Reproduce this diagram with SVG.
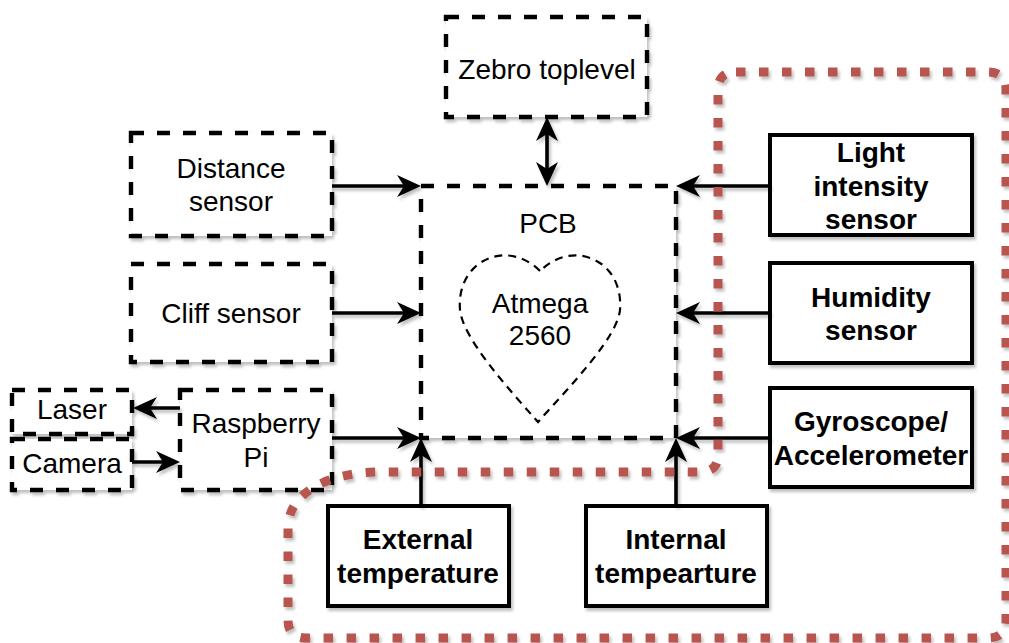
<svg xmlns="http://www.w3.org/2000/svg" width="1009" height="643" viewBox="0 0 1009 643">
<style>
.dbox{fill:#fff;stroke:#000;stroke-width:4.4;stroke-dasharray:13 13;filter:url(#sh)}
.sbox{fill:#fff;stroke:#000;stroke-width:4;filter:url(#sh)}
.t{font-family:"Liberation Sans",Arial,sans-serif;font-size:28px;fill:#000;text-anchor:middle}
.b{font-weight:bold}
.edge{fill:none;stroke:#000;stroke-width:3.6;marker-end:url(#arr)}
</style>
<defs>
<filter id="sh" x="-20%" y="-20%" width="140%" height="140%">
<feDropShadow dx="2" dy="3" stdDeviation="1.5" flood-color="#000" flood-opacity="0.25"/>
</filter>
<filter id="shu" filterUnits="userSpaceOnUse" x="0" y="0" width="1009" height="643">
<feDropShadow dx="2" dy="3" stdDeviation="1.5" flood-color="#000" flood-opacity="0.25"/>
</filter>
<marker id="arr" viewBox="0 0 24 22" refX="16" refY="11" markerWidth="24" markerHeight="22" markerUnits="userSpaceOnUse" orient="auto-start-reverse">
<path d="M0,0 L24,11 L0,22 L7,11 Z" fill="#000"/>
</marker>
</defs>
<rect width="1009" height="643" fill="#fff"/>

<g id="zebro"><rect class="dbox" x="446" y="17" width="201" height="100"/><text class="t" x="547" y="79">Zebro toplevel</text></g>
<g id="distance"><rect class="dbox" x="131" y="133" width="201" height="103"/><text class="t" x="231" y="178">Distance</text><text class="t" x="231" y="211">sensor</text></g>
<g id="cliff"><rect class="dbox" x="131" y="264" width="201" height="98"/><text class="t" x="231" y="323">Cliff sensor</text></g>
<g id="laser"><rect class="dbox" x="12" y="390" width="120" height="44"/><text class="t" x="72" y="419">Laser</text></g>
<g id="camera"><rect class="dbox" x="12" y="439" width="120" height="51"/><text class="t" x="72" y="473">Camera</text></g>
<g id="raspberry"><rect class="dbox" x="180" y="390" width="152" height="100"/><text class="t" x="256" y="433">Raspberry</text><text class="t" x="256" y="467">Pi</text></g>
<g id="pcb"><rect class="dbox" x="421" y="186" width="255" height="252"/><text class="t" x="548" y="233">PCB</text>
<path d="M540,271 C525,256 505,252 490,258 C470,265 458,285 460,310 C463,338 505,385 538,422 C571,385 617,338 620,310 C622,285 610,265 590,258 C575,252 555,256 540,271 Z" fill="none" stroke="#000" stroke-width="2.2" stroke-dasharray="8 6"/>
<text class="t" x="540" y="313">Atmega</text><text class="t" x="540" y="345">2560</text></g>
<g id="light"><rect class="sbox" x="770" y="135" width="202" height="100"/><text class="t b" x="871" y="162">Light</text><text class="t b" x="871" y="196">intensity</text><text class="t b" x="871" y="229">sensor</text></g>
<g id="humidity"><rect class="sbox" x="770" y="263" width="202" height="100"/><text class="t b" x="871" y="307">Humidity</text><text class="t b" x="871" y="340">sensor</text></g>
<g id="gyro"><rect class="sbox" x="770" y="388" width="202" height="99"/><text class="t b" x="871" y="431">Gyroscope/</text><text class="t b" x="871" y="465">Accelerometer</text></g>
<g id="external"><rect class="sbox" x="328" y="506" width="181" height="100"/><text class="t b" x="418" y="549">External</text><text class="t b" x="418" y="583">temperature</text></g>
<g id="internal"><rect class="sbox" x="586" y="506" width="181" height="100"/><text class="t b" x="676" y="549">Internal</text><text class="t b" x="676" y="583">tempearture</text></g>

<g id="connectors" filter="url(#shu)">
<path class="edge" d="M332,186 L413,186"/>
<path class="edge" d="M332,313 L413,313"/>
<path class="edge" d="M332,438 L413,438"/>
<path class="edge" d="M180,408 L141,408"/>
<path class="edge" d="M132,462 L172,462"/>
<path class="edge" style="marker-start:url(#arr)" d="M547,125 L547,178"/>
<path class="edge" d="M770,186 L684,186"/>
<path class="edge" d="M770,313 L684,313"/>
<path class="edge" d="M770,438 L684,438"/>
<path class="edge" d="M421,506 L421,446"/>
<path class="edge" d="M676,506 L676,446"/>
</g>

<g id="group-region">
<path d="M736,72 L988,72 Q1006,72 1006,90 L1006,620 Q1006,638 988,638 L306,638 Q288,638 288,620 L288,528 C288,492 330,472 380,472 L700,472 Q718,472 718,455 L718,90 Q718,72 736,72 Z" fill="none" stroke="#b85450" stroke-width="9" stroke-dasharray="9.5 13.5" filter="url(#shu)"/>
</g>
</svg>
